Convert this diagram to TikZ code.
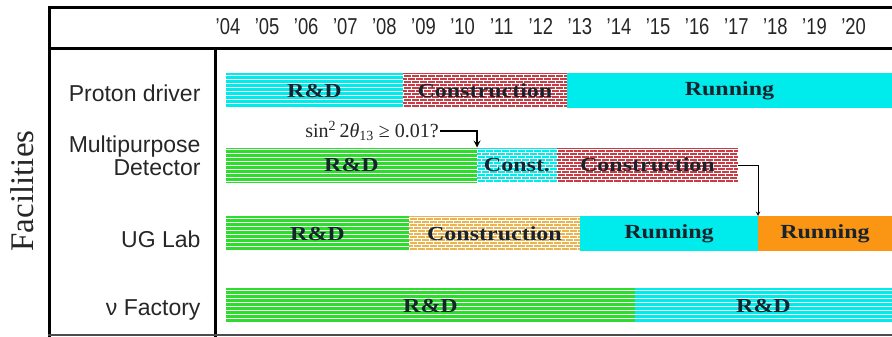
\documentclass[tikz,border=0pt]{standalone}
\usepackage{fontspec}
\setmainfont{Liberation Serif}
\setsansfont{Liberation Sans}
\usepackage{graphicx}

\definecolor{runcyan}{RGB}{0,235,235}
\definecolor{rdgreen}{RGB}{45,220,45}
\definecolor{conred}{RGB}{200,60,70}
\definecolor{conyellow}{RGB}{235,180,80}
\definecolor{runorange}{RGB}{250,150,20}
\definecolor{bartext}{RGB}{25,35,45}

\newcommand{\bartxt}[1]{\scalebox{1.2}[1]{#1}}

\begin{document}
\begin{tikzpicture}[x=1pt, y=-1pt, line cap=rect, >=stealth]
	\tikzset{bar/.style={anchor=west, minimum height=35pt, inner sep=0pt, outer sep=0pt, text=bartext, font=\fontsize{20}{22}\selectfont\bfseries},
		stripefill/.style={fill=#1, path picture={
			\foreach \k in {2,6,...,34}
				\draw[white, line width=0.9pt, line cap=butt] ([yshift=-\k pt]path picture bounding box.north west) -- ([yshift=-\k pt]path picture bounding box.north east);}},
		brickfill/.style={fill=#1, path picture={
			\foreach \k in {1.5,4.5,...,34.5}
				\draw[white, line width=0.8pt, line cap=butt] ([yshift=-\k pt]path picture bounding box.north west) -- ([yshift=-\k pt]path picture bounding box.north east);
			\foreach \j in {0,8,...,184}
				\foreach \k in {1.5,7.5,...,31.5} {
					\draw[white, line width=0.8pt, line cap=butt] ([xshift=\j pt, yshift=-\k pt]path picture bounding box.north west) -- ++(0,3);
					\draw[white, line width=0.8pt, line cap=butt] ([xshift=\j pt+4pt, yshift=-\k pt-3pt]path picture bounding box.north west) -- ++(0,3);
				}}},
		flat/.style={fill=#1},
		rowlabel/.style={anchor=base east, text=black!85, font=\sffamily\fontsize{23}{26}\selectfont}}
	\useasboundingbox (0,0) rectangle (892,337);
	% table frame
	\draw[line width=3pt] (49,8) -- (892,8);
	\draw[line width=3pt] (49,49) -- (892,49);
	\draw[line width=3pt] (49,8) -- (49,335);
	\draw[line width=3pt] (215,49) -- (215,335);
	\draw[line width=2pt, black!70] (49,335) -- (892,335);
	% years
	\foreach \yr [count=\i from 0] in {04,05,06,07,08,09,10,11,12,13,14,15,16,17,18,19,20}
		\node[anchor=base, text=black!85, font=\sffamily\fontsize{23}{26}\selectfont] (yr\yr) at ({228+39.1*\i},35) {\scalebox{0.8}[1]{'\yr}};
	% row labels
	\node[rotate=90, anchor=base, text=black!85, font=\fontsize{33}{36}\selectfont] (fac) at (34,191) {Facilities};
	\node[rowlabel] (lbpd) at (204,102) {Proton driver};
	\node[rowlabel] (lbmd) at (204,152) {Multipurpose};
	\node[rowlabel] (lbdet) at (204,175) {Detector};
	\node[rowlabel] (lbug) at (204,247) {UG Lab};
	\node[rowlabel] (lbnf) at (204,315) {ν Factory};
	% proton driver
	\node[bar, stripefill=runcyan, minimum width=177pt] (pdrd) at (226,90.5) {\bartxt{R\&D}};
	\node[bar, brickfill=conred, minimum width=164pt] (pdcon) at (pdrd.east) {\bartxt{Construction}};
	\node[bar, flat=runcyan, minimum width=325pt] (pdrun) at (pdcon.east) {\bartxt{Running}};
	% multipurpose detector
	\node[bar, stripefill=rdgreen, minimum width=251pt] (mdrd) at (226,165) {\bartxt{R\&D}};
	\node[bar, brickfill=runcyan, minimum width=80pt] (mdconst) at (mdrd.east) {\bartxt{Const.}};
	\node[bar, brickfill=conred, minimum width=181pt] (mdcon) at (mdconst.east) {\bartxt{Construction}};
	% UG lab
	\node[bar, stripefill=rdgreen, minimum width=183pt] (ugrd) at (226,233.5) {\bartxt{R\&D}};
	\node[bar, brickfill=conyellow, minimum width=171pt] (ugcon) at (ugrd.east) {\bartxt{Construction}};
	\node[bar, flat=runcyan, minimum width=178pt] (ugrun) at (ugcon.east) {\bartxt{Running}};
	\node[bar, flat=runorange, minimum width=134pt] (ugrun2) at (ugrun.east) {\bartxt{Running}};
	% neutrino factory
	\node[bar, stripefill=rdgreen, minimum width=409pt] (nfrd) at (226,305.5) {\bartxt{R\&D}};
	\node[bar, stripefill=runcyan, minimum width=257pt] (nfrd2) at (nfrd.east) {\bartxt{R\&D}};
	% decision arrows
	\node[inner sep=1pt, text=black!85, font=\fontsize{20}{22}\selectfont] (theta) at (372,131) {sin\textsuperscript{2}\,2\textit{θ}\textsubscript{13} ≥ 0.01?};
	\draw[->, line width=2pt, line cap=butt] (theta.east) -| (mdconst.north west);
	\draw[->, line width=1pt, line cap=butt] (mdcon.east) -| (ugrun2.north west);
\end{tikzpicture}
\end{document}
